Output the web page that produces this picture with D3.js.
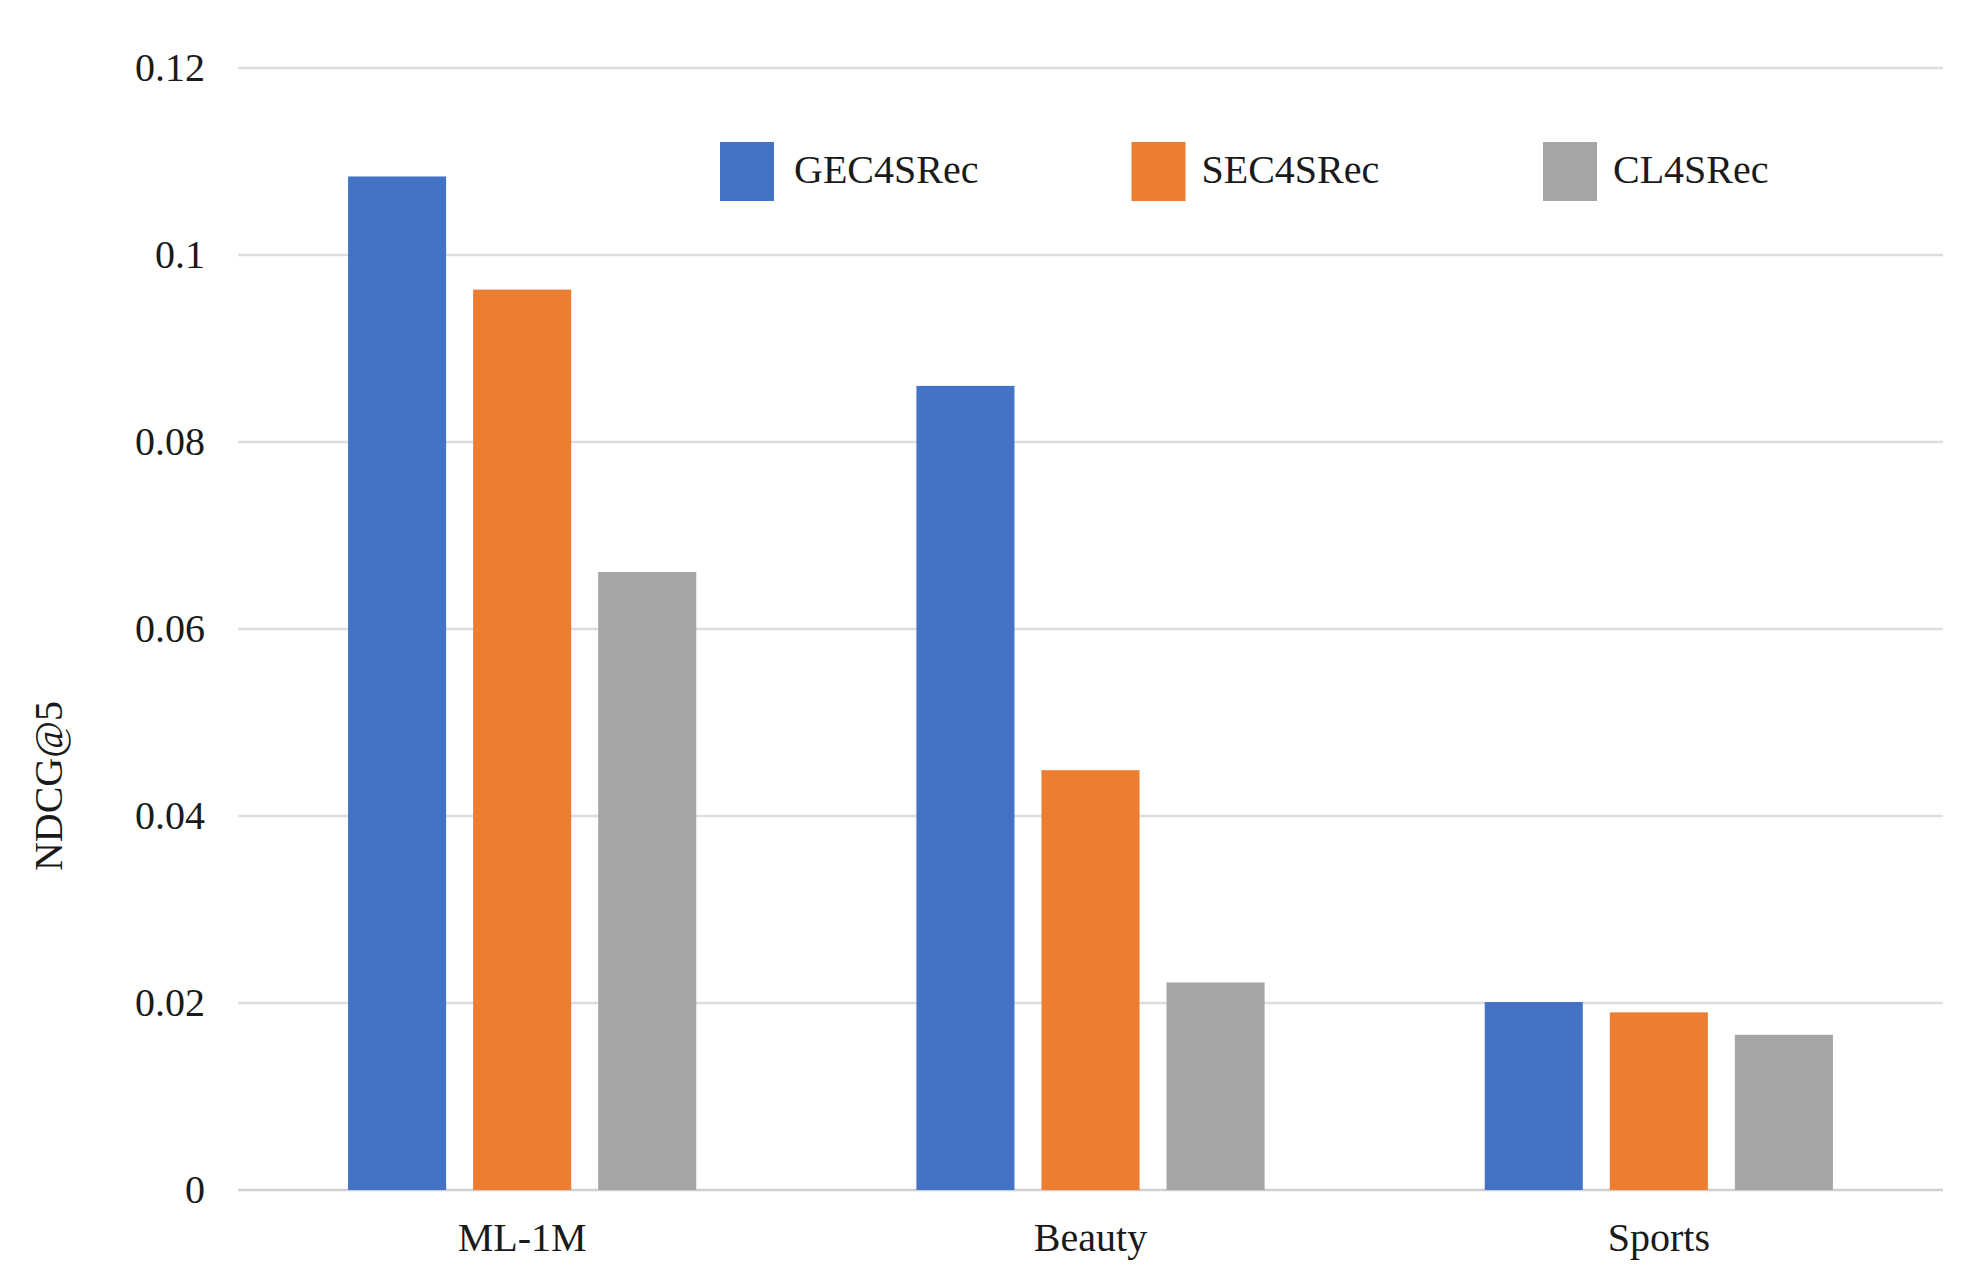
<!DOCTYPE html>
<html>
<head>
<meta charset="utf-8">
<script src="https://cdn.jsdelivr.net/npm/d3@7/dist/d3.min.js"></script>
<style>
  html, body { margin: 0; padding: 0; background: #ffffff; }
  svg { display: block; }
  text { font-family: "Liberation Serif", "Times New Roman", serif; fill: #1a1a1a; }
</style>
</head>
<body>
<svg id="chart" width="1983" height="1286"></svg>
<script>
// ---- data ----
const categories = ["ML-1M", "Beauty", "Sports"];
const seriesNames = ["GEC4SRec", "SEC4SRec", "CL4SRec"];
const gec4srec = [0.1084, 0.0860, 0.0201];
const sec4srec = [0.0963, 0.0449, 0.0190];
const cl4srec  = [0.0661, 0.0222, 0.0166];
const tickValues = [0, 0.02, 0.04, 0.06, 0.08, 0.1, 0.12];
const tickLabels = ["0", "0.02", "0.04", "0.06", "0.08", "0.1", "0.12"];
const yLabel = "NDCG@5";

const seriesValues = [gec4srec, sec4srec, cl4srec];
const colors = ["#4472C4", "#ED7D31", "#A5A5A5"];

// ---- layout ----
const svg = d3.select("#chart");
const plotLeft = 238, plotRight = 1943, plotTop = 68, plotBottom = 1190;

const x = d3.scaleBand().domain(categories).range([plotLeft, plotRight]).paddingInner(0).paddingOuter(0);
const xInner = d3.scaleBand().domain(seriesNames).range([0, x.bandwidth()])
  .paddingInner(0.216).paddingOuter(0.88);
const y = d3.scaleLinear().domain([0, 0.12]).range([plotBottom, plotTop]);

// gridlines
svg.append("g").selectAll("line").data(tickValues).join("line")
  .attr("x1", plotLeft).attr("x2", plotRight)
  .attr("y1", d => y(d)).attr("y2", d => y(d))
  .attr("stroke", d => d === 0 ? "#d0d0d0" : "#dedede")
  .attr("stroke-width", 2.5);

// y axis tick labels
const yAxis = d3.axisLeft(y).tickValues(tickValues)
  .tickFormat((d, i) => tickLabels[i]).tickSize(0).tickPadding(0);
const yg = svg.append("g").attr("transform", `translate(205,0)`).call(yAxis);
yg.select(".domain").remove();
yg.selectAll("text").attr("font-size", 40).attr("font-family", "Liberation Serif, serif").attr("fill", "#1a1a1a");

// bars
const groups = svg.append("g").selectAll("g").data(categories).join("g")
  .attr("transform", d => `translate(${x(d)},0)`);
groups.selectAll("rect")
  .data((c, ci) => seriesNames.map((s, si) => ({ s, si, v: seriesValues[si][ci] })))
  .join("rect")
  .attr("x", d => xInner(d.s))
  .attr("width", xInner.bandwidth())
  .attr("y", d => y(d.v))
  .attr("height", d => y(0) - y(d.v))
  .attr("fill", d => colors[d.si]);

// x axis labels
const xAxis = d3.axisBottom(x).tickSize(0).tickPadding(0);
const xg = svg.append("g").attr("transform", `translate(0,${plotBottom + 33})`).call(xAxis);
xg.select(".domain").remove();
xg.selectAll("text").attr("font-size", 40).attr("font-family", "Liberation Serif, serif").attr("fill", "#1a1a1a");

// y label
svg.append("text")
  .attr("transform", `translate(48,786) rotate(-90)`)
  .attr("text-anchor", "middle")
  .attr("dominant-baseline", "central")
  .attr("font-size", 40)
  .text(yLabel);

// legend
const legendX = d3.scaleLinear().domain([0, 1]).range([720, 1131.5]);
const legend = svg.append("g").selectAll("g").data(seriesNames).join("g")
  .attr("transform", (d, i) => `translate(${legendX(i)},142)`);
legend.append("rect").attr("width", 54).attr("height", 59).attr("fill", (d, i) => colors[i]);
legend.append("text").attr("x", (d, i) => i === 0 ? 74 : 70).attr("y", 27).attr("dominant-baseline", "central")
  .attr("font-size", 40).text(d => d);
</script>
</body>
</html>
